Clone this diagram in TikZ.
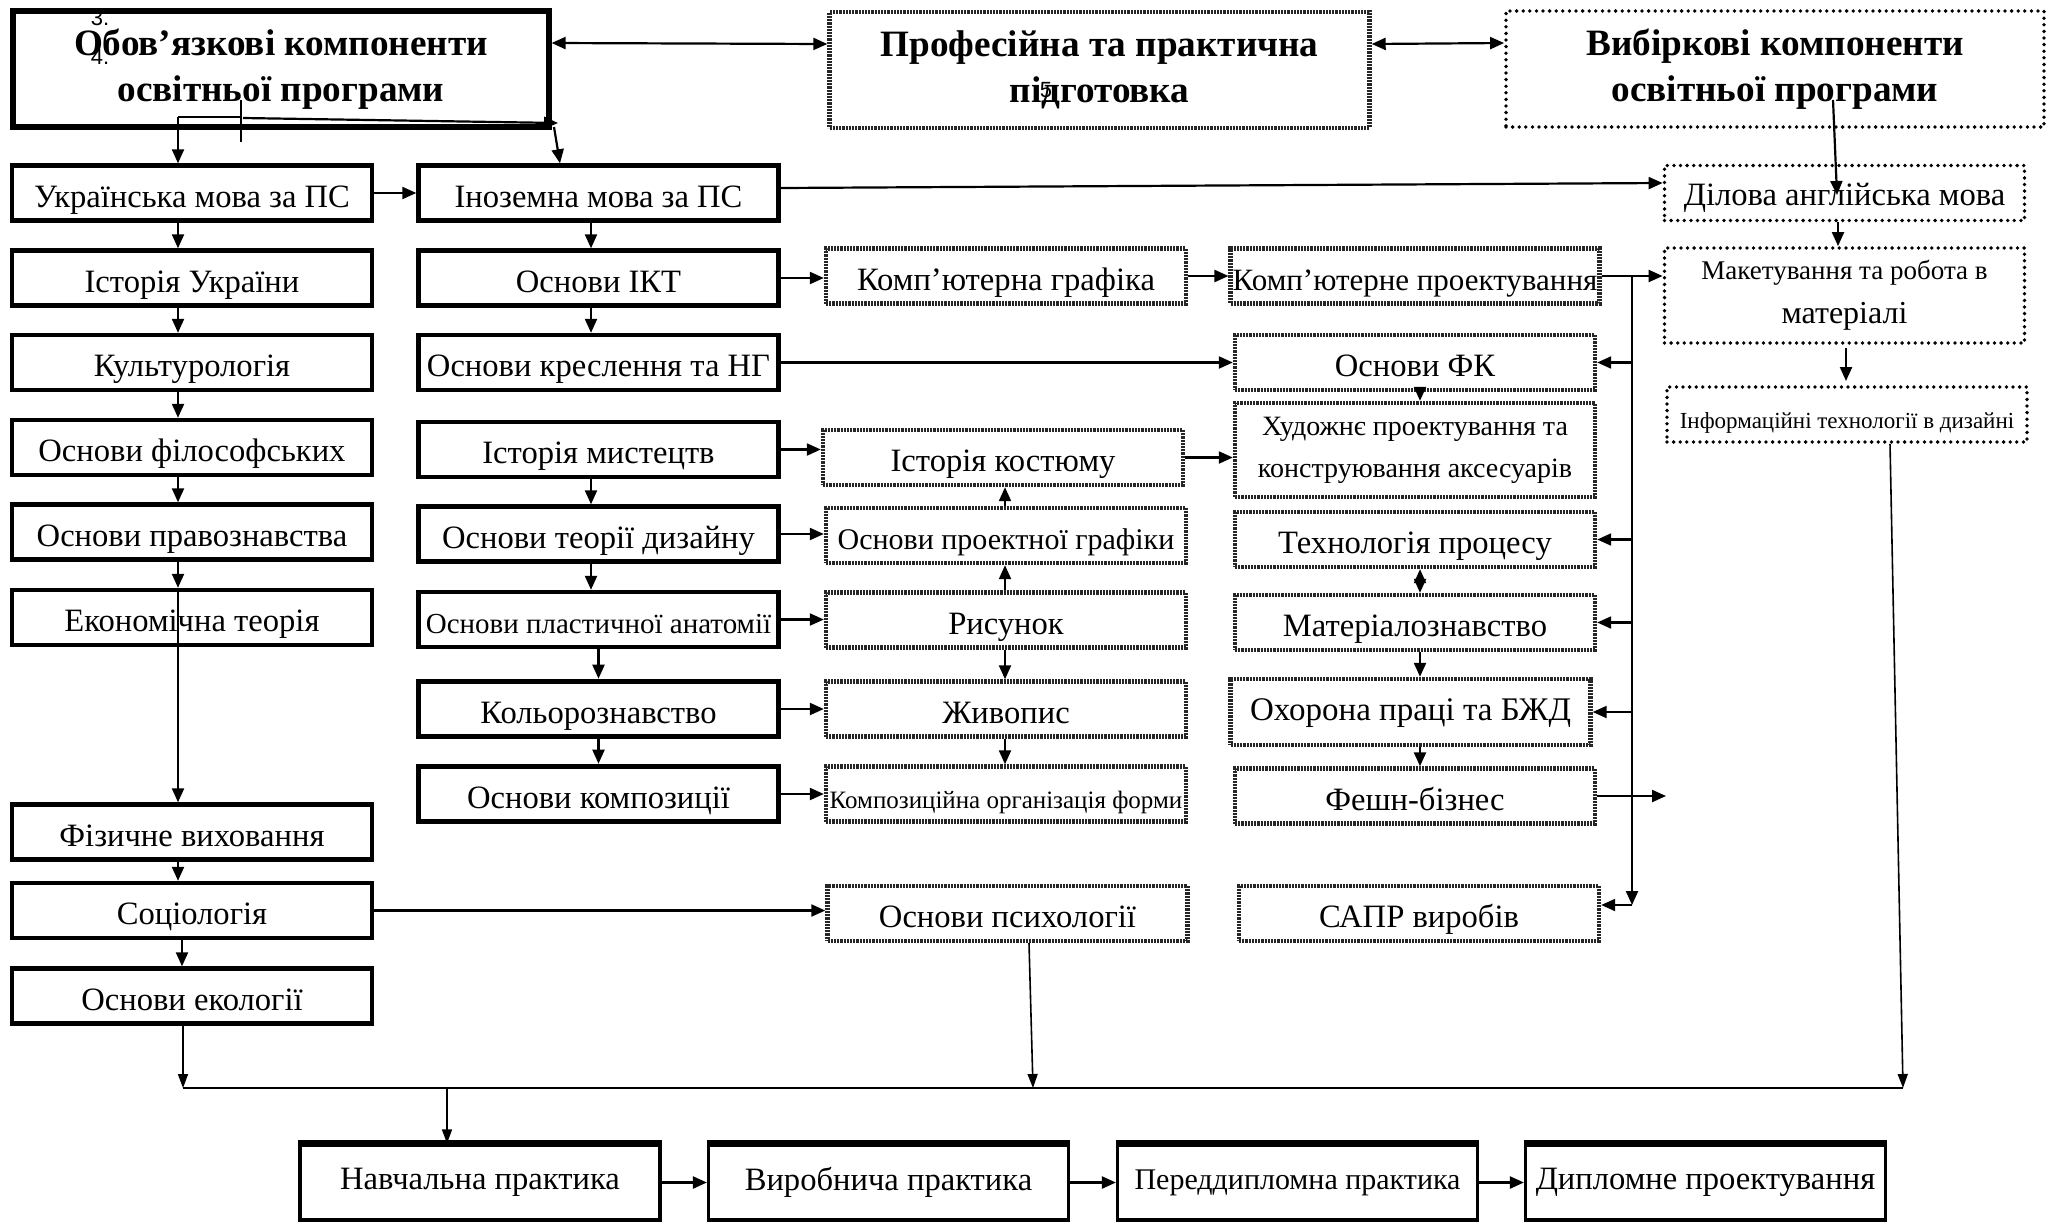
\documentclass[tikz,border=0pt]{standalone}
\usepackage{fontspec}
\setmainfont{Liberation Serif}
\setsansfont{Liberation Sans}
\usetikzlibrary{arrows.meta}
\newcommand\mainsize{\fontsize{16.3}{19}\selectfont}
\newcommand\titlesize{\fontsize{18.6}{23}\selectfont\bfseries}
\tikzset{
        corebox/.style={draw=black, line width=2.2pt, minimum width=180pt, minimum height=27.5pt, inner sep=1pt, align=center, font=\mainsize, text height=15pt, text depth=1pt},
        multi/.style={text height={}, text depth={}},
        profbox/.style={corebox, draw=black!85, line width=2.2pt, dash pattern=on 1.1pt off 0.5pt},
        electbox/.style={corebox, line width=1.9pt, dash pattern=on 0pt off 3.3pt, line cap=round},
        practbox/.style={corebox, multi, line width=1.6pt, minimum height=37.5pt},
        stray/.style={font=\sffamily\fontsize{11}{12}\selectfont, inner sep=0pt},
        arr/.style={-{Triangle[length=7pt,width=6pt]}, line width=1.1pt},
        thinarr/.style={-{Triangle[length=7pt,width=5pt]}, line width=0.8pt},
        darr/.style={{Triangle[length=7pt,width=6pt]}-{Triangle[length=7pt,width=6pt]}, line width=1.1pt}
          }
\begin{document}
\begin{tikzpicture}[x=0.5pt,y=-0.5pt]
\useasboundingbox (0,0) rectangle (2054,1221);

\node[corebox, multi, line width=2.6pt, minimum width=268pt, minimum height=58pt, font=\titlesize] (obov) at (281,69) {Обов’язкові компоненти\\освітньої програми};
\node[profbox, multi, minimum width=270pt, minimum height=58pt, font=\titlesize] (prof) at (1099.5,70) {Професійна та практична\\підготовка};
\node[electbox, multi, minimum width=269pt, minimum height=58pt, font=\titlesize] (vyb) at (1775,69) {Вибіркові компоненти\\освітньої програми};
\node[stray] (n3) at (100,18) {3.};
\node[stray] (n4) at (100,57) {4.};
\node[stray] (n5) at (1046,90) {5};

\node[corebox] (ukr) at (192,193) {Українська мова за ПС};
\node[corebox] (ist) at (192,278) {Історія України};
\node[corebox] (kult) at (192,362.5) {Культурологія};
\node[corebox] (filos) at (192,447.5) {Основи філософських};
\node[corebox] (prav) at (192,532) {Основи правознавства};
\node[corebox] (ekon) at (192,617.5) {Економічна теорія};
\node[corebox] (fiz) at (192,832) {Фізичне виховання};
\node[corebox] (soc) at (192,910.5) {Соціологія};
\node[corebox] (ekol) at (192,996) {Основи екології};

\node[corebox] (inoz) at (598.5,193) {Іноземна мова за ПС};
\node[corebox] (ikt) at (598.5,278) {Основи ІКТ};
\node[corebox] (kresl) at (598.5,362.5) {Основи креслення та НГ};
\node[corebox] (istmyst) at (598.5,449.5) {Історія мистецтв};
\node[corebox] (teor) at (598.5,534) {Основи теорії дизайну};
\node[corebox, font=\fontsize{14.5}{17}\selectfont] (anat) at (598.5,619.5) {Основи пластичної анатомії};
\node[corebox, line width=2.8pt] (kolor) at (598.5,709) {Кольорознавство};
\node[corebox, line width=2.8pt] (kompoz) at (598.5,794) {Основи композиції};

\node[profbox] (kgraf) at (1006,276) {Комп'ютерна графіка};
\node[profbox] (kost) at (1003,457.5) {Історія костюму};
\node[profbox, font=\fontsize{15}{18}\selectfont] (prgraf) at (1006,535.5) {Основи проектної графіки};
\node[profbox] (rys) at (1006,620) {Рисунок};
\node[profbox] (zhyv) at (1006,709) {Живопис};
\node[profbox, font=\fontsize{12.5}{15}\selectfont] (korg) at (1006,794) {Композиційна організація форми};
\node[profbox] (psych) at (1007.5,913.5) {Основи психології};

\node[profbox, font=\fontsize{15.5}{18}\selectfont] (kproekt) at (1415,276) {Комп’ютерне проектування};
\node[profbox] (fk) at (1415,362.5) {Основи ФК};
\node[profbox, multi, minimum height=47pt, font=\fontsize{14}{21}\selectfont] (khud) at (1415,450) {Художнє проектування та\\конструювання аксесуарів};
\node[profbox] (tekh) at (1415,539.5) {Технологія процесу};
\node[profbox] (mater) at (1415,622.5) {Матеріалознавство};
\node[profbox, minimum height=33pt, text height=11pt, text depth=3pt, font=\fontsize{16.5}{19}\selectfont] (ohor) at (1410.5,712) {Охорона праці та БЖД};
\node[profbox] (fesh) at (1415,796) {Фешн-бізнес};
\node[profbox] (sapr) at (1419,913.5) {САПР виробів};

\node[electbox, text height=14pt, text depth=2pt] (dilova) at (1844.5,193) {Ділова англійська мова};
\node[electbox, multi, minimum height=47.5pt, font=\fontsize{13.5}{22}\selectfont] (maket) at (1844.5,295.5) {Макетування та робота в\\{\fontsize{16}{19}\selectfont матеріалі}};
\node[electbox, font=\fontsize{11.5}{14}\selectfont] (inform) at (1847,414.5) {Інформаційні технології в дизайні};

\node[practbox] (navch) at (480,1182.5) {Навчальна практика};
\node[practbox] (vyrob) at (888.5,1182.5) {Виробнича практика};
\node[practbox, font=\fontsize{15}{18}\selectfont] (pered) at (1297.5,1182.5) {Переддипломна практика};
\node[practbox] (dypl) at (1705.5,1182.5) {Дипломне проектування};
\foreach \n in {navch,vyrob,pered,dypl}
  \draw[line width=3.5pt] (\n.north west) -- (\n.north east);

\coordinate (c1) at (178,0);
\coordinate (c2) at (591,0);
\coordinate (c3) at (1005,0);
\coordinate (c4) at (1420,0);
\coordinate (j1) at (178,117);
\coordinate (j2) at (241,117);
\coordinate (k1) at (241,100);
\coordinate (k2) at (241,142);
\coordinate (s1) at (243,118);
\coordinate (s2) at (558,123);
\coordinate (d1) at (554,127);
\coordinate (d2) at (560,0);

\draw[darr] ([yshift=13pt]obov.east) -- ([yshift=13pt]prof.west);
\draw[darr] ([yshift=13pt]prof.east) -- ([yshift=13pt]vyb.west);
\draw[line width=1pt] (j1) -- (j2);
\draw[line width=0.8pt] (k1) -- (k2);
\draw[arr] (j1) -- (j1 |- ukr.north);
\draw[arr] (s1) -- (s2);
\draw[arr] (d1) -- (d2 |- inoz.north);

\foreach \a/\b in {ukr/ist, ist/kult, kult/filos, filos/prav, prav/ekon, fiz/soc}
  \draw[arr] (\a.south -| c1) -- (\b.north -| c1);
\draw[arr] (ekon.north -| c1) -- (fiz.north -| c1);
\draw[arr] ([xshift=-5pt]soc.south) -- ([xshift=-5pt]ekol.north);

\foreach \a/\b in {inoz/ikt, ikt/kresl, istmyst/teor, teor/anat}
  \draw[arr] (\a.south -| c2) -- (\b.north -| c2);
\draw[arr] (anat.south) -- (kolor.north);
\draw[arr] (kolor.south) -- (kompoz.north);

\foreach \a/\b in {rys/prgraf, prgraf/kost}
  \draw[arr] (\a.north -| c3) -- (\b.south -| c3);
\foreach \a/\b in {rys/zhyv, zhyv/korg}
  \draw[arr] (\a.south -| c3) -- (\b.north -| c3);

\draw[arr] (fk.south -| c4) -- (khud.north -| c4);
\draw[darr] (tekh.south -| c4) -- (mater.north -| c4);
\draw[arr] (mater.south -| c4) -- (ohor.north -| c4);
\draw[arr] (ohor.south -| c4) -- (fesh.north -| c4);

\foreach \a/\b in {ukr/inoz, ikt/kgraf, kgraf/kproekt, kresl/fk, istmyst/kost, kost/khud, teor/prgraf, anat/rys, kolor/zhyv, kompoz/korg, soc/psych, kproekt/maket, navch/vyrob, vyrob/pered, pered/dypl}
  \draw[arr] (\a.east) -- (\a.east -| \b.west);
\draw[arr] ([yshift=2.5pt]inoz.east) -- ([yshift=5pt]dilova.west);

\coordinate (bt) at (1632,276);
\coordinate (bb) at (1632,905);
\coordinate (feshend) at (1666,796);
\draw[arr] (bt) -- (bb);
\draw[arr] (bb) -- (bb -| sapr.east);
\foreach \n in {fk, tekh, mater, ohor}
  \draw[arr] (bt |- \n.east) -- (\n.east);
\draw[arr] (fesh.east) -- (feshend);

\coordinate (v1) at (1833,100);
\coordinate (v2) at (1837,195);
\coordinate (c5) at (1838,0);
\coordinate (m1) at (1846,348);
\coordinate (m2) at (1846,381);
\draw[arr] (v1) -- (v2);
\draw[arr] (dilova.south -| c5) -- (maket.north -| c5);
\draw[arr] (m1) -- (m2);

\coordinate (busl) at (183,1088);
\coordinate (busr) at (1903,1088);
\coordinate (ix) at (1890,0);
\coordinate (px) at (1029,0);
\coordinate (pb) at (1033,1088);
\coordinate (nb) at (447,1088);
\draw[line width=1.4pt] (busl) -- (busr);
\draw[thinarr] (ekol.south -| busl) -- (busl);
\draw[thinarr] (psych.south -| px) -- (pb);
\draw[thinarr] (inform.south -| ix) -- (busr);
\draw[thinarr] (nb) -- (nb |- navch.north);
\end{tikzpicture}
\end{document}
